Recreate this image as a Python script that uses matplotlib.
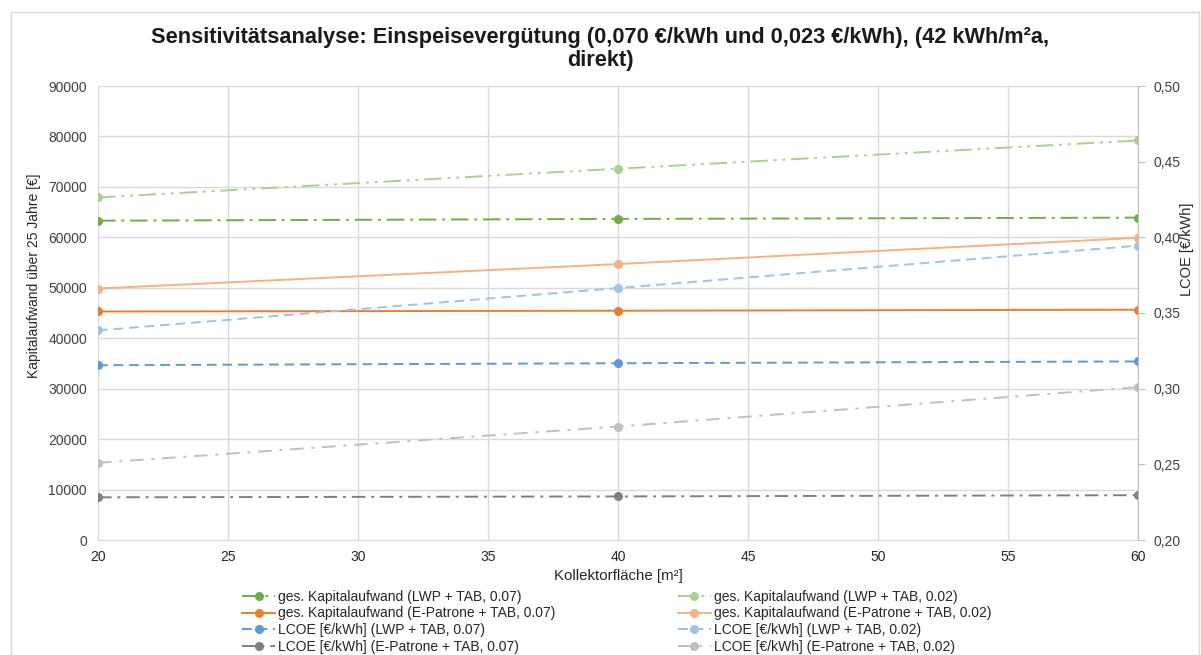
import numpy as np
import matplotlib
matplotlib.use("Agg")
import matplotlib.pyplot as plt
from matplotlib.patches import Rectangle

plt.rcParams['font.family'] = ['Liberation Sans', 'DejaVu Sans']

# Kollektorfläche [m²]
flaeche = [20, 40, 60]

# Kapitalaufwand über 25 Jahre [€] (linke Achse)
kap_lwp_07 = [63300, 63650, 63900]
kap_lwp_02 = [67900, 73600, 79200]
kap_ep_07 = [45300, 45450, 45650]
kap_ep_02 = [49850, 54700, 59900]

# LCOE [€/kWh] (rechte Achse)
lcoe_lwp_07 = [0.3155, 0.3168, 0.3180]
lcoe_lwp_02 = [0.3385, 0.3665, 0.3945]
lcoe_ep_07 = [0.2282, 0.2288, 0.2296]
lcoe_ep_02 = [0.2510, 0.2750, 0.3010]

W, H = 1201, 655
fig = plt.figure(figsize=(W/100, H/100), dpi=100)
ax = fig.add_axes([98/W, 1-540/H, (1138-98)/W, (540-86)/H])
ax2 = ax.twinx()

# Rahmen des Diagrammbereichs
fig.patches.append(Rectangle((11/W, -0.05), (1199-11)/W, 1.05-12/H, transform=fig.transFigure,
                             fill=False, edgecolor='#d9d9d9', lw=1))

lw = 1.4
ms = 5.5
l1, = ax.plot(flaeche, kap_lwp_07, color='#70AD47', lw=lw, marker='o', ms=ms,
              dashes=(9, 3, 1.5, 3), label='ges. Kapitalaufwand (LWP + TAB, 0.07)')
l2, = ax.plot(flaeche, kap_lwp_02, color='#A9D18E', lw=lw, marker='o', ms=ms,
              dashes=(9, 3, 1.5, 3, 1.5, 3), label='ges. Kapitalaufwand (LWP + TAB, 0.02)')
l3, = ax.plot(flaeche, kap_ep_07, color='#ED7D31', lw=lw, marker='o', ms=ms,
              label='ges. Kapitalaufwand (E-Patrone + TAB, 0.07)')
l4, = ax.plot(flaeche, kap_ep_02, color='#F4B183', lw=lw, marker='o', ms=ms,
              label='ges. Kapitalaufwand (E-Patrone + TAB, 0.02)')
l5, = ax2.plot(flaeche, lcoe_lwp_07, color='#5B9BD5', lw=lw, marker='o', ms=ms,
               dashes=(5, 3), label='LCOE [€/kWh] (LWP + TAB, 0.07)')
l6, = ax2.plot(flaeche, lcoe_lwp_02, color='#9DC3E6', lw=lw, marker='o', ms=ms,
               dashes=(5, 3), label='LCOE [€/kWh] (LWP + TAB, 0.02)')
l7, = ax2.plot(flaeche, lcoe_ep_07, color='#7F7F7F', lw=lw, marker='o', ms=ms,
               dashes=(7, 3, 1.5, 3), label='LCOE [€/kWh] (E-Patrone + TAB, 0.07)')
l8, = ax2.plot(flaeche, lcoe_ep_02, color='#BFBFBF', lw=lw, marker='o', ms=ms,
               dashes=(7, 4, 1.5, 4), label='LCOE [€/kWh] (E-Patrone + TAB, 0.02)')

ax.set_xlim(20, 60)
ax.set_ylim(0, 90000)
ax.set_xticks(np.arange(20, 61, 5))
ax.set_yticks(np.arange(0, 90001, 10000))
ax2.set_ylim(0.20, 0.50)
rticks = np.arange(0.20, 0.501, 0.05)
ax2.set_yticks(rticks)
ax2.set_yticklabels([f"{v:.2f}".replace('.', ',') for v in rticks])

ax.grid(True, color='#d9d9d9', lw=1)
ax.set_axisbelow(True)
for s in ['top', 'right', 'left']:
    ax.spines[s].set_visible(False)
    ax2.spines[s].set_visible(False)
ax.spines['bottom'].set_color('#d9d9d9')
ax2.spines['bottom'].set_visible(False)
ax2.spines['right'].set_visible(True)
ax2.spines['right'].set_color('#bfbfbf')
ax.tick_params(axis='both', length=0, labelsize=10, colors='#404040')
ax.tick_params(axis='y', pad=8)
ax.tick_params(axis='x', pad=7, labelcolor='#262626')
ax2.tick_params(axis='y', length=5, color='#bfbfbf', labelsize=10, labelcolor='#404040', pad=6)

ax.set_xlabel('Kollektorfläche [m²]', fontsize=10.8, color='#262626', labelpad=4)
ax.set_ylabel('Kapitalaufwand über 25 Jahre [€]', fontsize=10, color='#262626')
ax.yaxis.set_label_coords((41-98)/(1138-98), (540-276)/(540-86))
ax2.set_ylabel('LCOE [€/kWh]', fontsize=10.5, color='#262626')
ax2.yaxis.set_label_coords((1180-98)/(1138-98), (540-249)/(540-86))

fig.suptitle('Sensitivitätsanalyse: Einspeisevergütung (0,070 €/kWh und 0,023 €/kWh), (42 kWh/m²a,\ndirekt)',
             fontsize=15.7, fontweight='bold', color='#1a1a1a', y=1-27/H, va='top', linespacing=1.15)

handles = [l1, l3, l5, l7, l2, l4, l6, l8]
fig.legend(handles=handles, labels=[h.get_label() for h in handles], ncol=2, loc='upper left',
           bbox_to_anchor=(242/W, 1-590/H), frameon=False, fontsize=10, handlelength=2.4,
           borderpad=0, borderaxespad=0, columnspacing=8.8, labelspacing=0.18,
           handletextpad=0.2, labelcolor='#262626')

fig.savefig('out.png', dpi=100)
